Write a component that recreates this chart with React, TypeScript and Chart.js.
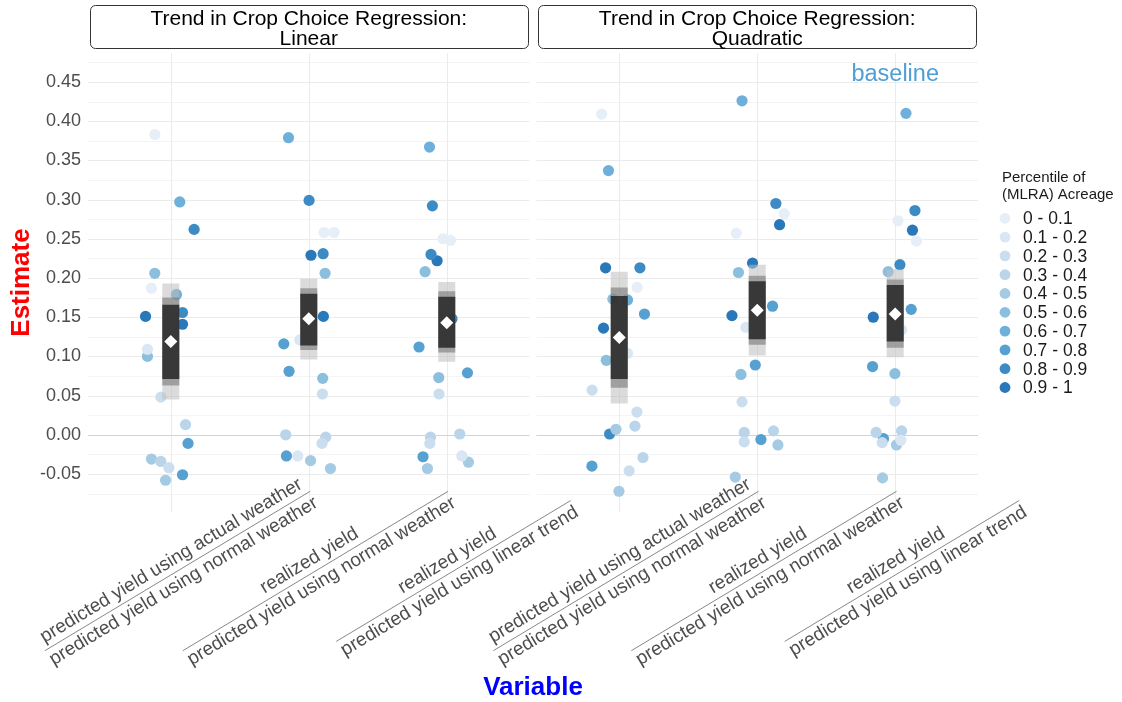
import React, { useEffect, useRef } from "react";
import { Chart, registerables } from "chart.js";

Chart.register(...registerables);

const FONT = '"Liberation Sans", Arial, Helvetica, sans-serif';

// ---- data -------------------------------------------------------------
const STRIP_PREFIX = "Trend in Crop Choice Regression:";
const PANEL_TITLES = ["Linear", "Quadratic"];
const VARIABLE_LABELS = [
  ["predicted yield using actual weather", "predicted yield using normal weather"],
  ["realized yield", "predicted yield using normal weather"],
  ["realized yield", "predicted yield using linear trend"],
];
const BIN_LABELS = [
  "0 - 0.1", "0.1 - 0.2", "0.2 - 0.3", "0.3 - 0.4", "0.4 - 0.5",
  "0.5 - 0.6", "0.6 - 0.7", "0.7 - 0.8", "0.8 - 0.9", "0.9 - 1",
];
const Y_TICKS = [-0.05, 0, 0.05, 0.1, 0.15, 0.2, 0.25, 0.3, 0.35, 0.4, 0.45];

// MLRA estimates: [estimate, acreage percentile bin, horizontal jitter]
const LINEAR_ACTUAL_NORMAL = [
  [0.383, 0, -0.116], [0.297, 6, 0.065], [0.262, 8, 0.169], [0.206, 5, -0.116],
  [0.187, 0, -0.14], [0.179, 6, 0.041], [0.151, 9, -0.183], [0.156, 8, 0.085],
  [0.141, 9, 0.085], [0.109, 1, -0.169], [0.1, 5, -0.169], [0.048, 2, -0.072],
  [0.013, 3, 0.107], [-0.011, 7, 0.125], [-0.031, 4, -0.14], [-0.034, 3, -0.072],
  [-0.042, 2, -0.014], [-0.058, 4, -0.038], [-0.051, 7, 0.085],
];
const LINEAR_REALIZED_NORMAL = [
  [0.379, 6, -0.147], [0.299, 8, 0.002], [0.229, 9, 0.016], [0.231, 8, 0.104],
  [0.258, 0, 0.111], [0.258, 0, 0.183], [0.206, 5, 0.118], [0.151, 9, 0.106],
  [0.116, 7, -0.181], [0.121, 1, -0.065], [0.081, 7, -0.143], [0.072, 5, 0.101],
  [0.052, 2, 0.099], [0.0, 3, -0.167], [-0.003, 3, 0.123], [-0.011, 2, 0.096],
  [-0.027, 7, -0.162], [-0.027, 1, -0.08], [-0.033, 4, 0.013], [-0.043, 4, 0.157],
];
const LINEAR_REALIZED_TREND = [
  [0.367, 6, -0.125], [0.292, 8, -0.104], [0.25, 0, -0.027], [0.248, 0, 0.027],
  [0.23, 8, -0.114], [0.222, 9, -0.07], [0.208, 5, -0.157], [0.148, 8, 0.038],
  [0.112, 7, -0.201], [0.079, 7, 0.15], [0.073, 5, -0.058], [0.052, 2, -0.056],
  [0.001, 3, 0.094], [-0.003, 3, -0.118], [-0.011, 2, -0.123], [-0.027, 1, 0.109],
  [-0.035, 4, 0.157], [-0.028, 7, -0.172], [-0.043, 4, -0.14],
];
const QUAD_ACTUAL_NORMAL = [
  [0.409, 0, -0.128], [0.337, 6, -0.078], [0.213, 9, -0.099], [0.213, 8, 0.15],
  [0.188, 0, 0.13], [0.173, 5, -0.046], [0.172, 6, 0.06], [0.154, 7, 0.183],
  [0.136, 9, -0.114], [0.104, 1, 0.06], [0.095, 5, -0.094], [0.057, 2, -0.197],
  [0.029, 2, 0.128], [0.011, 3, 0.114], [0.007, 4, -0.024], [0.001, 8, -0.07],
  [-0.029, 3, 0.172], [-0.04, 7, -0.198], [-0.046, 2, 0.072], [-0.072, 4, -0.002],
];
const QUAD_REALIZED_NORMAL = [
  [0.426, 6, -0.11], [0.257, 0, -0.152], [0.207, 5, -0.136], [0.152, 9, -0.183],
  [0.137, 1, -0.082], [0.077, 5, -0.118], [0.042, 2, -0.11], [0.003, 3, -0.094],
  [-0.009, 2, -0.094], [-0.054, 4, -0.159], [0.295, 8, 0.135], [0.282, 0, 0.196],
  [0.268, 9, 0.162], [0.219, 9, -0.034], [0.164, 7, 0.111], [0.089, 7, -0.014],
  [-0.006, 7, 0.027], [0.005, 3, 0.118], [-0.013, 4, 0.15],
];
const QUAD_REALIZED_TREND = [
  [0.41, 6, 0.078], [0.286, 8, 0.143], [0.273, 0, 0.02], [0.261, 9, 0.125],
  [0.247, 0, 0.154], [0.217, 8, 0.034], [0.208, 5, -0.051], [0.16, 7, 0.116],
  [0.15, 9, -0.159], [0.134, 1, 0.046], [0.087, 7, -0.164], [0.078, 5, -0.002],
  [0.043, 2, -0.002], [0.003, 3, -0.138], [0.005, 3, 0.046], [-0.005, 7, -0.085],
  [-0.01, 2, -0.094], [-0.007, 1, 0.041], [-0.013, 4, 0.009], [-0.055, 4, -0.092],
];

// interval summaries per panel/variable (Linear x3, then Quadratic x3)
const OUTER_LO = [0.045, 0.096, 0.093, 0.04, 0.101, 0.099];
const OUTER_HI = [0.193, 0.199, 0.195, 0.208, 0.217, 0.211];
const MID_LO = [0.063, 0.108, 0.105, 0.06, 0.115, 0.111];
const MID_HI = [0.175, 0.187, 0.183, 0.188, 0.203, 0.198];
const INNER_LO = [0.071, 0.114, 0.111, 0.071, 0.122, 0.119];
const INNER_HI = [0.166, 0.18, 0.176, 0.177, 0.196, 0.191];
const MEDIANS = [0.119, 0.148, 0.143, 0.124, 0.159, 0.154];

const BASELINE_LABEL = "baseline";
const BASELINE_LABEL_Y = 0.46;

// ---- styling & facet geometry -----------------------------------------
const BIN_COLORS = [
  "#e6eef8", "#d9e6f3", "#cbdeef", "#bad5ea", "#a5cae3",
  "#8cbfde", "#6fb0da", "#56a0d2", "#3d8bc5", "#2878ba",
];
const Y_MIN = -0.0985;
const Y_MAX = 0.487;
const EXPAND = 0.6; // discrete axis expansion on each side of a facet
const PANEL_SPAN = 2 + 2 * EXPAND;
const PANEL_GAP = 0.05;

const GROUPS = [
  LINEAR_ACTUAL_NORMAL, LINEAR_REALIZED_NORMAL, LINEAR_REALIZED_TREND,
  QUAD_ACTUAL_NORMAL, QUAD_REALIZED_NORMAL, QUAD_REALIZED_TREND,
];

const panelStart = (p: number) => 1 - EXPAND + p * (PANEL_SPAN + PANEL_GAP);
const groupX = (g: number) => panelStart(Math.floor(g / 3)) + EXPAND + (g % 3);

function buildDatasets() {
  const points = BIN_LABELS.map((label, b) => ({
    type: "scatter",
    label,
    data: GROUPS.flatMap((grp, gi) =>
      grp.filter((p) => p[1] === b).map((p) => ({ x: groupX(gi) + p[2], y: p[0] }))
    ),
    backgroundColor: BIN_COLORS[b],
    borderWidth: 0,
    pointRadius: 5.6,
    pointHoverRadius: 5.6,
    order: 10,
  }));
  const band = (lo: number[], hi: number[], color: string, order: number) => ({
    type: "bar",
    label: "interval",
    data: lo.map((l, i) => ({ x: groupX(i), y: [l, hi[i]] })),
    backgroundColor: color,
    borderWidth: 0,
    grouped: false,
    maxBarThickness: 17,
    order,
  });
  const medians = {
    type: "scatter",
    label: "median",
    data: MEDIANS.map((m, i) => ({ x: groupX(i), y: m })),
    backgroundColor: "#ffffff",
    borderWidth: 0,
    pointStyle: "rectRot",
    pointRadius: 6.5,
    pointHoverRadius: 6.5,
    order: 0,
  };
  return [
    ...points,
    band(OUTER_LO, OUTER_HI, "rgba(190,190,190,0.55)", 3),
    band(MID_LO, MID_HI, "rgba(110,110,110,0.55)", 2),
    band(INNER_LO, INNER_HI, "rgba(40,40,40,0.86)", 1),
    medians,
  ];
}

const crisp = (v: number) => Math.round(v) + 0.5;

const facetPlugin = {
  id: "facetDecor",
  beforeDatasetsDraw(chart: any) {
    const { ctx, chartArea } = chart;
    const x = chart.scales.x;
    const y = chart.scales.y;
    const half = (Y_TICKS[1] - Y_TICKS[0]) / 2;
    const minor = [Y_TICKS[0] - half, ...Y_TICKS.map((t) => t + half)].filter(
      (v) => v > Y_MIN && v < Y_MAX
    );
    ctx.save();
    ctx.lineWidth = 1;
    for (let p = 0; p < PANEL_TITLES.length; p++) {
      const left = x.getPixelForValue(panelStart(p));
      const right = x.getPixelForValue(panelStart(p) + PANEL_SPAN);
      const hline = (v: number, color: string) => {
        const py = crisp(y.getPixelForValue(v));
        ctx.strokeStyle = color;
        ctx.beginPath();
        ctx.moveTo(left, py);
        ctx.lineTo(right, py);
        ctx.stroke();
      };
      minor.forEach((v) => hline(v, "#f4f4f4"));
      Y_TICKS.forEach((v) => hline(v, "#ebebeb"));
      for (let c = 0; c < 3; c++) {
        const px = crisp(x.getPixelForValue(groupX(p * 3 + c)));
        ctx.strokeStyle = "#ebebeb";
        ctx.beginPath();
        ctx.moveTo(px, chartArea.top);
        ctx.lineTo(px, chartArea.bottom);
        ctx.stroke();
      }
      hline(0, "#d3d3d3");
    }
    ctx.restore();
  },
  afterDraw(chart: any) {
    const { ctx, chartArea } = chart;
    const x = chart.scales.x;
    const y = chart.scales.y;
    ctx.save();

    // facet strips
    for (let p = 0; p < PANEL_TITLES.length; p++) {
      const left = x.getPixelForValue(panelStart(p)) + 2;
      const right = x.getPixelForValue(panelStart(p) + PANEL_SPAN) - 2;
      const top = 5.5;
      const bottom = 48.5;
      ctx.beginPath();
      ctx.roundRect(Math.round(left) + 0.5, top, Math.round(right - left), bottom - top, 5);
      ctx.fillStyle = "#ffffff";
      ctx.fill();
      ctx.strokeStyle = "#333333";
      ctx.lineWidth = 1;
      ctx.stroke();
      ctx.fillStyle = "#000000";
      ctx.font = `21px ${FONT}`;
      ctx.textAlign = "center";
      ctx.textBaseline = "alphabetic";
      const cx = (left + right) / 2;
      ctx.fillText(STRIP_PREFIX, cx, 25);
      ctx.fillText(PANEL_TITLES[p], cx, 45);
    }

    // two-line variable labels, split by a rule, rotated
    const angle = (-31 * Math.PI) / 180;
    ctx.font = `19px ${FONT}`;
    for (let g = 0; g < GROUPS.length; g++) {
      const [top, bottom] = VARIABLE_LABELS[g % 3];
      const px = x.getPixelForValue(groupX(g));
      ctx.save();
      ctx.translate(px + 6.7, 571);
      ctx.rotate(angle);
      ctx.fillStyle = "#4d4d4d";
      ctx.textAlign = "center";
      ctx.textBaseline = "middle";
      ctx.fillText(top, 0, -12);
      ctx.fillText(bottom, 0, 12);
      const w = Math.max(ctx.measureText(top).width, ctx.measureText(bottom).width);
      ctx.strokeStyle = "#666666";
      ctx.lineWidth = 0.7;
      ctx.beginPath();
      ctx.moveTo(-w / 2, 0);
      ctx.lineTo(w / 2, 0);
      ctx.stroke();
      ctx.restore();
    }

    // x axis title
    ctx.fillStyle = "#0000ff";
    ctx.font = `bold 26px ${FONT}`;
    ctx.textAlign = "center";
    ctx.textBaseline = "middle";
    ctx.fillText("Variable", (chartArea.left + chartArea.right) / 2, 688);

    // baseline annotation
    ctx.fillStyle = "#4f9ed4";
    ctx.font = `23.5px ${FONT}`;
    ctx.fillText(
      BASELINE_LABEL,
      x.getPixelForValue(groupX(GROUPS.length - 1)),
      y.getPixelForValue(BASELINE_LABEL_Y)
    );

    // legend
    const lx = chartArea.right + 24;
    ctx.fillStyle = "#1a1a1a";
    ctx.font = `15px ${FONT}`;
    ctx.textAlign = "left";
    ctx.fillText("Percentile of", lx, 178);
    ctx.fillText("(MLRA) Acreage", lx, 195);
    ctx.font = `17.5px ${FONT}`;
    BIN_LABELS.forEach((label, i) => {
      const ly = 218.3 + i * 18.8;
      ctx.fillStyle = BIN_COLORS[i];
      ctx.beginPath();
      ctx.arc(lx + 3, ly, 5.4, 0, Math.PI * 2);
      ctx.fill();
      ctx.fillStyle = "#1a1a1a";
      ctx.fillText(label, lx + 21, ly + 1);
    });

    ctx.restore();
  },
};

export default function App() {
  const canvasRef = useRef<HTMLCanvasElement | null>(null);

  useEffect(() => {
    const canvas = canvasRef.current;
    if (!canvas) return;
    const chart = new Chart(canvas, {
      type: "scatter",
      data: { datasets: buildDatasets() as any },
      options: {
        animation: false,
        responsive: false,
        devicePixelRatio: 1,
        events: [],
        layout: { padding: { left: 0, right: 144, top: 53, bottom: 190 } },
        plugins: { legend: { display: false }, tooltip: { enabled: false } },
        scales: {
          x: {
            type: "linear",
            min: panelStart(0),
            max: panelStart(PANEL_TITLES.length - 1) + PANEL_SPAN,
            display: false,
            offset: false,
            grid: { offset: false },
          },
          y: {
            type: "linear",
            min: Y_MIN,
            max: Y_MAX,
            beginAtZero: false,
            afterFit: (s: any) => {
              s.width = 88;
            },
            afterBuildTicks: (s: any) => {
              s.ticks = Y_TICKS.map((v) => ({ value: v }));
            },
            ticks: {
              callback: (v: any) => Number(v).toFixed(2),
              color: "#4d4d4d",
              font: { family: FONT, size: 18 },
              padding: 7,
              autoSkip: false,
            },
            grid: { display: false, drawTicks: false },
            border: { display: false },
            title: {
              display: true,
              text: "Estimate",
              color: "#ff0000",
              font: { family: FONT, size: 26, weight: "bold" },
              padding: { top: 6, bottom: 0 },
            },
          },
        },
      },
      plugins: [facetPlugin],
    } as any);
    return () => chart.destroy();
  }, []);

  return (
    <div style={{ position: "fixed", left: 0, top: 0, width: 1122, height: 702, background: "#ffffff" }}>
      <canvas ref={canvasRef} width={1122} height={702} style={{ display: "block" }} />
    </div>
  );
}
